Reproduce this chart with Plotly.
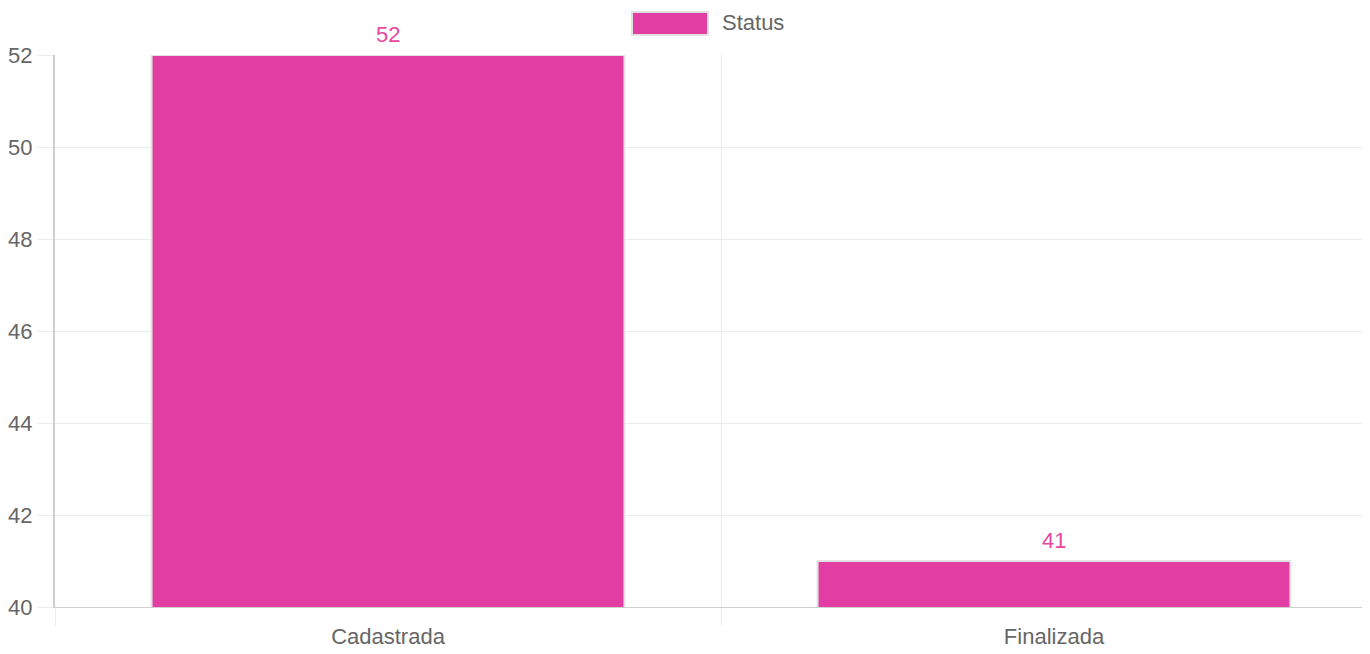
import plotly.graph_objects as go

categories = ["Cadastrada", "Finalizada"]
values = [52, 41]
series_name = "Status"
y_ticks = [40, 42, 44, 46, 48, 50, 52]

BAR = "#e23da2"
LABEL = "#e8479f"
GRID = "#ececec"
AXIS = "#cfcfcf"
TXT = "#666666"
FONT = "Liberation Sans, Arial, sans-serif"

OFF = 8  # page body margin
W, H = 1362, 646
ML, MR, MT, MB = 47, 8, 47, 47
pw = W - ML - MR
ph = H - MT - MB
left_px = OFF + ML
bottom_px = OFF + H - MB

def px_x(p):
    return (p - left_px) / pw

def px_y(p):
    return (bottom_px - p) / ph

fig = go.Figure()
fig.add_trace(go.Bar(
    x=categories, y=values, name=series_name,
    marker=dict(color=BAR, line=dict(color="#e2e2e2", width=2)),
    width=0.71, showlegend=False, hoverinfo="x+y",
))

annotations = []
for c, v in zip(categories, values):
    annotations.append(dict(
        x=c, y=v, xref="x", yref="y", text=str(v), showarrow=False,
        yshift=21, yanchor="middle", xanchor="center",
        font=dict(family=FONT, size=22, color=LABEL),
    ))
annotations.append(dict(
    x=px_x(720), y=px_y(22), xref="paper", yref="paper", text=series_name,
    showarrow=False, xanchor="left", yanchor="middle",
    font=dict(family=FONT, size=22, color=TXT),
))

shapes = [dict(
    type="rect", xref="paper", yref="paper",
    x0=px_x(632), x1=px_x(708), y0=px_y(35), y1=px_y(12),
    fillcolor=BAR, line=dict(color="#e0e0e0", width=2),
)]

right_edge = -0.5 + pw / 666.0

fig.update_layout(
    width=W, height=H,
    margin=dict(l=ML, r=MR, t=MT, b=MB, pad=0, autoexpand=False),
    paper_bgcolor="white", plot_bgcolor="white",
    font=dict(family=FONT, size=22, color=TXT),
    annotations=annotations, shapes=shapes,
    xaxis=dict(
        type="category", range=[-0.5, right_edge], automargin=False,
        tickson="boundaries", ticks="outside", ticklen=18, tickcolor=GRID,
        ticklabelstandoff=10,
        showgrid=True, gridcolor=GRID, gridwidth=1,
        showline=True, linecolor=AXIS, linewidth=1,
        tickfont=dict(family=FONT, size=22, color=TXT),
        fixedrange=True,
    ),
    yaxis=dict(
        range=[40, 52], tickvals=y_ticks, ticktext=[str(t) for t in y_ticks],
        automargin=False,
        ticks="outside", ticklen=16, tickcolor=GRID,
        showgrid=True, gridcolor=GRID, gridwidth=1,
        showline=True, linecolor=AXIS, linewidth=2,
        zeroline=False,
        tickfont=dict(family=FONT, size=22, color=TXT),
        fixedrange=True,
    ),
)

fig.write_html("out.html", config={"displayModeBar": False})
